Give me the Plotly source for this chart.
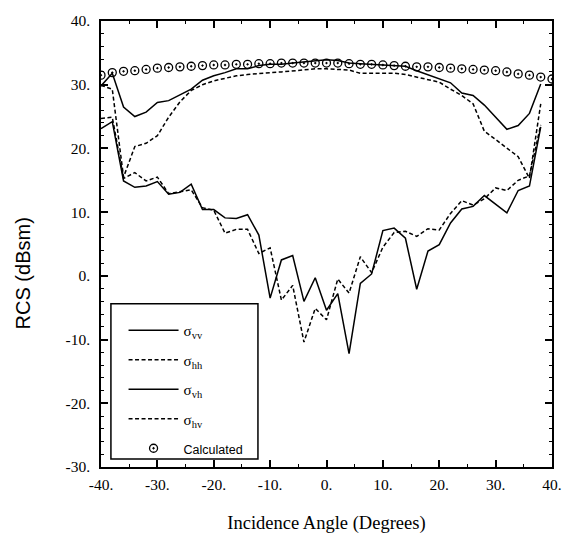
import plotly.graph_objects as go

# Incidence angles (degrees)
angles = [-40, -38, -36, -34, -32, -30, -28, -26, -24, -22, -20, -18, -16, -14, -12, -10,
          -8, -6, -4, -2, 0, 2, 4, 6, 8, 10, 12, 14, 16, 18, 20, 22, 24, 26, 28, 30,
          32, 34, 36, 38]

sigma_vv = [29.8, 31.8, 26.5, 25.0, 25.7, 27.2, 27.5, 28.4, 29.3, 30.7, 31.4, 31.9, 32.5, 32.5,
            33.0, 33.2, 33.2, 33.4, 33.6, 33.7, 33.9, 33.8, 33.4, 33.3, 33.2, 33.1, 33.0, 32.9,
            32.2, 31.6, 31.0, 30.3, 28.7, 28.3, 26.8, 24.9, 23.0, 23.6, 25.5, 30.1]

sigma_hh = [29.9, 29.3, 15.5, 20.3, 20.8, 22.0, 24.9, 27.3, 29.1, 30.0, 30.6, 31.0, 31.4, 31.6,
            31.8, 31.9, 32.0, 32.2, 32.3, 32.5, 32.5, 32.4, 32.3, 31.8, 31.8, 31.8, 31.8, 31.6,
            31.2, 30.8, 30.4, 29.3, 28.3, 27.0, 22.7, 21.4, 20.1, 18.7, 15.3, 27.0]

sigma_vh = [23.1, 24.2, 14.9, 13.9, 14.1, 14.8, 12.8, 13.1, 14.4, 10.4, 10.4, 9.1, 9.0, 9.6,
            6.4, -3.5, 2.5, 3.2, -4.0, -0.3, -5.4, -2.8, -12.2, -1.2, 0.3, 7.1, 7.5, 5.9,
            -2.1, 3.9, 4.9, 8.3, 10.5, 10.9, 12.6, 11.3, 9.9, 13.4, 14.1, 23.4]

sigma_hv = [24.7, 24.9, 15.3, 16.2, 14.9, 15.5, 12.9, 13.2, 13.5, 10.7, 10.3, 6.7, 7.3, 7.3,
            3.5, 4.4, -3.8, -1.5, -10.4, -5.1, -6.9, -0.5, -2.7, 3.0, 0.5, 4.5, 6.8, 7.0,
            6.2, 7.4, 7.2, 9.8, 11.8, 11.1, 12.1, 13.8, 13.4, 15.0, 15.7, 23.7]

calc_angles = [-40, -38, -36, -34, -32, -30, -28, -26, -24, -22, -20, -18, -16, -14, -12, -10,
               -8, -6, -4, -2, 0, 2, 4, 6, 8, 10, 12, 14, 16, 18, 20, 22, 24, 26, 28, 30,
               32, 34, 36, 38, 40]
calculated = [31.5, 31.9, 32.1, 32.2, 32.4, 32.6, 32.7, 32.8, 32.9, 33.0, 33.1, 33.1, 33.2, 33.2,
              33.3, 33.3, 33.4, 33.4, 33.4, 33.4, 33.4, 33.4, 33.3, 33.2, 33.2, 33.1, 33.0, 32.9,
              32.8, 32.8, 32.7, 32.6, 32.5, 32.4, 32.3, 32.2, 32.0, 31.7, 31.5, 31.2, 30.9]

x_tickvals = [-40, -30, -20, -10, 0, 10, 20, 30, 40]
x_ticktext = ["-40.", "-30.", "-20.", "-10.", "0.", "10.", "20.", "30.", "40."]
y_tickvals = [-30, -20, -10, 0, 10, 20, 30, 40]
y_ticktext = ["-30.", "-20.", "-10.", "0.", "10.", "20.", "30.", "40."]

serif = "Liberation Serif, Times New Roman, serif"
sans = "Liberation Sans, Arial, sans-serif"

fig = go.Figure()
dash = "4px,2.5px"
fig.add_trace(go.Scatter(x=angles, y=sigma_vv, mode="lines", name="σ<sub>vv</sub>",
                         legendgroup="a", line=dict(color="black", width=1.5)))
fig.add_trace(go.Scatter(x=angles, y=sigma_hh, mode="lines", name="σ<sub>hh</sub>",
                         legendgroup="b", line=dict(color="black", width=1.5, dash=dash)))
fig.add_trace(go.Scatter(x=angles, y=sigma_vh, mode="lines", name="σ<sub>vh</sub>",
                         legendgroup="c", line=dict(color="black", width=1.5)))
fig.add_trace(go.Scatter(x=angles, y=sigma_hv, mode="lines", name="σ<sub>hv</sub>",
                         legendgroup="d", line=dict(color="black", width=1.5, dash=dash)))
fig.add_trace(go.Scatter(x=calc_angles, y=calculated, mode="markers",
                         name="<span style='font-family:Liberation Sans;font-size:12.5px'>Calculated</span>",
                         legendgroup="e",
                         marker=dict(symbol="circle-open-dot", size=8, color="black",
                                     line=dict(color="black", width=1.3))))

axis_common = dict(showline=True, linecolor="black", linewidth=1.5, mirror="ticks",
                   ticks="inside", tickcolor="black", tickwidth=1.5, ticklen=7,
                   showgrid=False, zeroline=False,
                   tickfont=dict(family=serif, size=15.5, color="black"))

fig.update_xaxes(range=[-40, 40], tickvals=x_tickvals, ticktext=x_ticktext,
                 minor=dict(dtick=5, tick0=0, ticks="inside", ticklen=3, tickcolor="black", tickwidth=1.2),
                 title=dict(text="Incidence Angle (Degrees)", standoff=24,
                            font=dict(family=serif, size=18.5, color="black")),
                 ticklabelstandoff=3, **axis_common)
fig.update_yaxes(range=[-30, 40], tickvals=y_tickvals, ticktext=y_ticktext,
                 minor=dict(dtick=2, tick0=0, ticks="inside", ticklen=3, tickcolor="black", tickwidth=1.2),
                 ticklabelstandoff=6, **axis_common)

fig.add_annotation(text="RCS (dBsm)", xref="paper", yref="paper", x=-0.172, y=0.435,
                   textangle=-90, showarrow=False, xanchor="center", yanchor="middle",
                   font=dict(family=sans, size=20, color="black"))

fig.add_shape(type="rect", xref="paper", yref="paper",
              x0=0.022, x1=0.348, y0=0.018, y1=0.366,
              line=dict(color="black", width=1.5), fillcolor="white", layer="above")

fig.update_layout(
    width=574, height=542,
    margin=dict(l=101, r=13, t=14, b=74),
    paper_bgcolor="white", plot_bgcolor="white",
    showlegend=True,
    legend=dict(x=0.05, y=0.343, xanchor="left", yanchor="top",
                bgcolor="rgba(0,0,0,0)", borderwidth=0,
                traceorder="grouped", tracegroupgap=7, itemwidth=50,
                font=dict(family=serif, size=15, color="black")),
)

fig.write_html("out.html")
